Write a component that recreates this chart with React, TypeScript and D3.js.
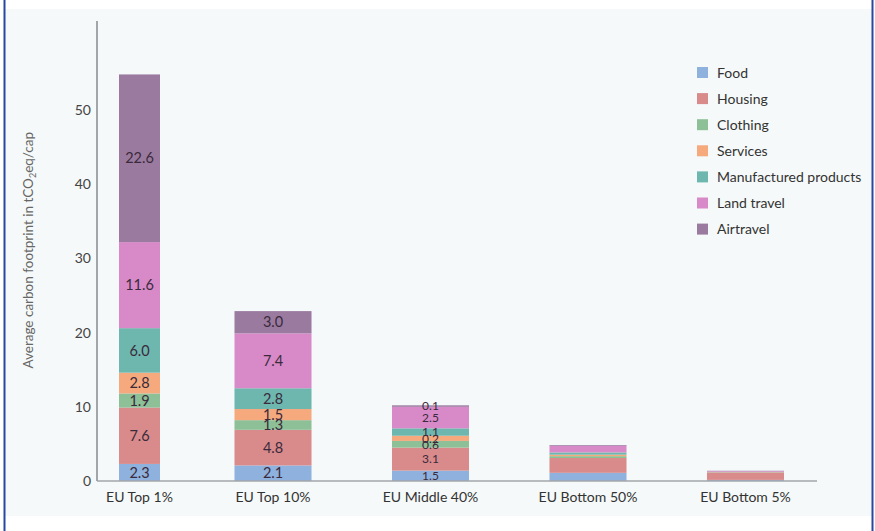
import React from "react";
import * as d3 from "d3";

const categories = ["EU Top 1%", "EU Top 10%", "EU Middle 40%", "EU Bottom 50%", "EU Bottom 5%"];
const seriesNames = ["Food", "Housing", "Clothing", "Services", "Manufactured products", "Land travel", "Airtravel"];
const seriesColors = ["#8fb1dd", "#d98a8b", "#8dc096", "#f5a97d", "#6db7ae", "#d78ac7", "#9a7b9f"];

// segment heights per category
const food = [2.3, 2.1, 1.4, 1.1, 0.15];
const housing = [7.6, 4.8, 3.1, 2.0, 1.0];
const clothing = [1.9, 1.3, 0.9, 0.25, 0.03];
const services = [2.8, 1.5, 0.7, 0.2, 0.02];
const manufactured = [6.0, 2.8, 1.0, 0.3, 0.03];
const landTravel = [11.6, 7.4, 2.9, 0.9, 0.1];
const airTravel = [22.6, 3.0, 0.2, 0.1, 0.05];

// printed labels (null = no label)
const labelsTop1 = ["2.3", "7.6", "1.9", "2.8", "6.0", "11.6", "22.6"];
const labelsTop10 = ["2.1", "4.8", "1.3", "1.5", "2.8", "7.4", "3.0"];
const labelsMiddle40 = ["1.5", "3.1", "0.6", "0.2", "1.1", "2.5", "0.1"];
const labelsBottom50: (string | null)[] = [null, null, null, null, null, null, null];
const labelsBottom5: (string | null)[] = [null, null, null, null, null, null, null];

const yTicks = [0, 10, 20, 30, 40, 50];

const W = 875;
const H = 531;
const FONT = "Lato, 'Open Sans', sans-serif";

export default function App() {
  const seriesValues = [food, housing, clothing, services, manufactured, landTravel, airTravel];
  const labels = [labelsTop1, labelsTop10, labelsMiddle40, labelsBottom50, labelsBottom5];

  const rows = categories.map((c, i) => {
    const r: any = { cat: c };
    seriesNames.forEach((s, j) => (r[s] = seriesValues[j][i]));
    return r;
  });
  const stack = d3.stack<any>().keys(seriesNames)(rows);

  const y = d3.scaleLinear().domain([0, 62]).range([481, 21]);
  const x = d3.scaleBand().domain(categories).range([77, 784]).paddingInner(0.511).paddingOuter(0);
  const bw = x.bandwidth();

  const barPos = (i: number) => {
    const x0 = x(categories[i])!;
    if (i === 0) return { left: x0 + 42, w: 41 };
    return { left: x0, w: bw };
  };

  const axisX = 97;
  const legendX = 697;
  const legendY0 = 72.5;
  const legendStep = 26.1;

  return (
    <svg width={W} height={H} style={{ position: "absolute", left: 0, top: 0 }}>
      <rect x={0} y={0} width={W} height={H} fill="#ffffff" />
      <rect x={5} y={9} width={867} height={507} fill="#f5f9f9" />
      <line x1={4.5} x2={4.5} y1={0} y2={H} stroke="#2747a3" strokeWidth={2} />
      <line x1={872.5} x2={872.5} y1={0} y2={H} stroke="#2747a3" strokeWidth={2} />

      {/* bars */}
      {stack.map((layer, j) =>
        layer.map((d, i) => {
          const p = barPos(i);
          const y0 = y(d[0]);
          const y1 = y(d[1]);
          return (
            <rect
              key={`b-${j}-${i}`}
              x={p.left}
              y={y1}
              width={p.w}
              height={Math.max(0, y0 - y1)}
              fill={seriesColors[j]}
            />
          );
        })
      )}

      {/* bar labels */}
      {stack.map((layer, j) =>
        layer.map((d, i) => {
          const lab = labels[i][j];
          if (!lab) return null;
          const p = barPos(i);
          const cy = (y(d[0]) + y(d[1])) / 2;
          const small = i === 2;
          return (
            <text
              key={`l-${j}-${i}`}
              x={p.left + p.w / 2}
              y={cy}
              dy="0.36em"
              textAnchor="middle"
              fontFamily={FONT}
              fontSize={small ? 12 : 14.5}
              fill="#3a2a3c"
            >
              {lab}
            </text>
          );
        })
      )}

      {/* axes */}
      <line x1={axisX} x2={axisX} y1={y(62)} y2={y(0)} stroke="#a3a6a8" strokeWidth={2} />
      <line x1={axisX} x2={817} y1={y(0)} y2={y(0)} stroke="#a3a6a8" strokeWidth={1.5} />
      {yTicks.map((t) => (
        <text
          key={`t-${t}`}
          x={91}
          y={y(t)}
          dy="0.36em"
          textAnchor="end"
          fontFamily={FONT}
          fontSize={14}
          fill="#444"
        >
          {t}
        </text>
      ))}
      {categories.map((c, i) => {
        const p = barPos(i);
        return (
          <text
            key={`c-${c}`}
            x={p.left + p.w / 2}
            y={502}
            textAnchor="middle"
            fontFamily={FONT}
            fontSize={14}
            fill="#333"
          >
            {c}
          </text>
        );
      })}

      <text
        transform={`translate(33, ${y(31.1)}) rotate(-90)`}
        textAnchor="middle"
        fontFamily={FONT}
        fontSize={13.5}
        fill="#666"
      >
        Average carbon footprint in tCO
        <tspan fontSize={9} dy={3}>2</tspan>
        <tspan dy={-3}>eq/cap</tspan>
      </text>

      {/* legend */}
      {seriesNames.map((s, j) => (
        <g key={`lg-${s}`} transform={`translate(${legendX}, ${legendY0 + j * legendStep})`}>
          <rect x={0} y={-5.5} width={11} height={11} fill={seriesColors[j]} />
          <text x={20} y={0} dy="0.36em" fontFamily={FONT} fontSize={14} fill="#333">
            {s}
          </text>
        </g>
      ))}
    </svg>
  );
}
